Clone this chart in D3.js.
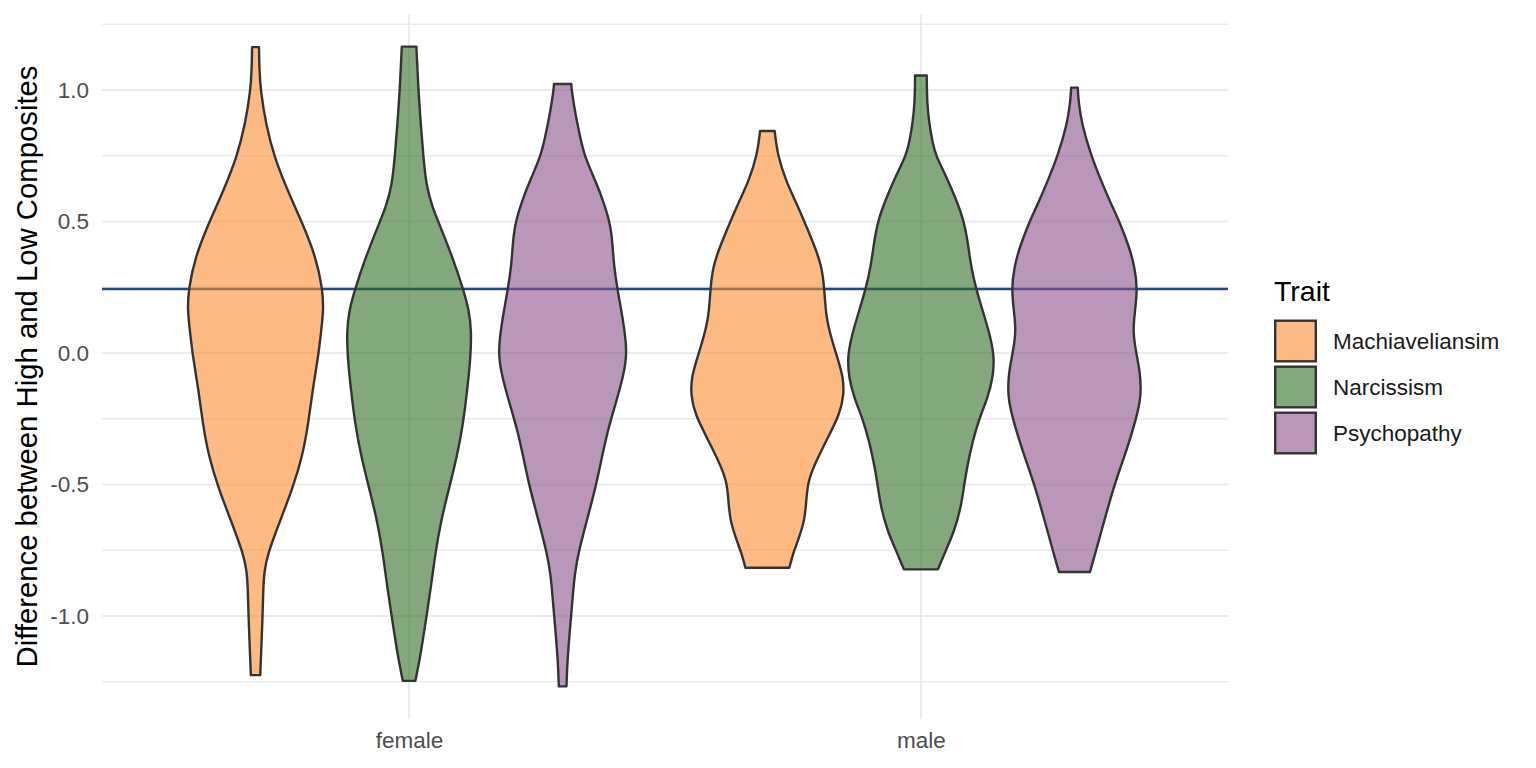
<!DOCTYPE html>
<html><head><meta charset="utf-8">
<script src="https://cdn.jsdelivr.net/npm/d3@7"></script>
<style>body{margin:0;background:#fff;} svg{display:block;font-family:"Liberation Sans",Arial,Helvetica,sans-serif;}</style>
</head><body><svg id="chart" width="1536" height="768"></svg>
<script>
const sexes = ["female", "male"];
const traits = ["Machiaveliansim", "Narcissism", "Psychopathy"];
const traitColors = ["#FC8C2F", "#2F6E23", "#8C528C"];
const yTickValues = [-1.0, -0.5, 0.0, 0.5, 1.0];
const yTickLabels = ["-1.0", "-0.5", "0.0", "0.5", "1.0"];
const yMinorValues = [-1.25, -0.75, -0.25, 0.25, 0.75, 1.25];
const referenceLine = 0.243;
const yLabel = "Difference between High and Low Composites";
const legendTitle = "Trait";

// violin profiles: [value, scaled density (1 = widest violin)]
const femaleMach = [[1.163,0.045],[1.08,0.05],[1.0,0.065],[0.871,0.134],[0.745,0.243],[0.618,0.417],[0.492,0.612],[0.366,0.785],[0.241,0.875],[0.162,0.885],[0.084,0.855],[-0.011,0.818],[-0.137,0.745],[-0.263,0.69],[-0.388,0.615],[-0.514,0.485],[-0.641,0.315],[-0.767,0.155],[-0.83,0.115],[-0.894,0.1],[-1.019,0.09],[-1.145,0.072],[-1.225,0.061]];
const femaleNarc = [[1.165,0.095],[1.0,0.121],[0.871,0.152],[0.745,0.186],[0.634,0.225],[0.555,0.303],[0.492,0.391],[0.366,0.564],[0.241,0.707],[0.162,0.781],[0.084,0.811],[-0.011,0.803],[-0.137,0.759],[-0.263,0.707],[-0.388,0.629],[-0.514,0.521],[-0.641,0.413],[-0.767,0.339],[-0.894,0.283],[-1.019,0.217],[-1.145,0.152],[-1.247,0.082]];
const femalePsych = [[1.023,0.113],[1.0,0.117],[0.903,0.169],[0.813,0.234],[0.75,0.285],[0.666,0.408],[0.606,0.495],[0.5,0.616],[0.426,0.647],[0.332,0.668],[0.243,0.712],[0.122,0.79],[0.0,0.845],[-0.089,0.79],[-0.194,0.69],[-0.30,0.582],[-0.42,0.495],[-0.51,0.43],[-0.63,0.322],[-0.751,0.212],[-0.84,0.156],[-0.946,0.126],[-1.051,0.095],[-1.172,0.061],[-1.268,0.05]];
const maleMach = [[0.844,0.095],[0.75,0.134],[0.654,0.243],[0.578,0.365],[0.5,0.482],[0.40,0.625],[0.324,0.712],[0.243,0.742],[0.137,0.764],[0.06,0.829],[-0.03,0.925],[-0.09,0.985],[-0.158,1.0],[-0.235,0.94],[-0.323,0.785],[-0.412,0.634],[-0.488,0.525],[-0.577,0.504],[-0.641,0.482],[-0.717,0.395],[-0.768,0.329],[-0.817,0.286]];
const maleNarc = [[1.055,0.076],[0.95,0.08],[0.87,0.11],[0.80,0.152],[0.75,0.195],[0.674,0.326],[0.586,0.456],[0.5,0.564],[0.41,0.616],[0.333,0.651],[0.245,0.716],[0.143,0.824],[0.055,0.911],[-0.02,0.957],[-0.096,0.937],[-0.172,0.868],[-0.25,0.759],[-0.336,0.673],[-0.425,0.608],[-0.5,0.564],[-0.589,0.521],[-0.678,0.434],[-0.75,0.326],[-0.823,0.221]];
const malePsych = [[1.009,0.043],[0.958,0.052],[0.87,0.095],[0.75,0.217],[0.654,0.348],[0.566,0.478],[0.5,0.586],[0.401,0.716],[0.325,0.785],[0.245,0.82],[0.161,0.79],[0.085,0.759],[0.0,0.803],[-0.076,0.858],[-0.168,0.87],[-0.25,0.803],[-0.358,0.694],[-0.5,0.521],[-0.612,0.413],[-0.75,0.283],[-0.833,0.202]];

const violins = [
  {sex: "female", trait: "Machiaveliansim", profile: femaleMach},
  {sex: "female", trait: "Narcissism", profile: femaleNarc},
  {sex: "female", trait: "Psychopathy", profile: femalePsych},
  {sex: "male", trait: "Machiaveliansim", profile: maleMach},
  {sex: "male", trait: "Narcissism", profile: maleNarc},
  {sex: "male", trait: "Psychopathy", profile: malePsych}
];

const panel = {left: 102, right: 1228, top: 14, bottom: 719};
const svg = d3.select("#chart");

const y = d3.scaleLinear().domain([-1.392, 1.289]).range([panel.bottom, panel.top]);
const x = d3.scalePoint().domain(sexes).range([panel.left, panel.right]).padding(0.6);
const dodge = d3.scaleBand().domain(traits).range([-0.45 * x.step(), 0.45 * x.step()]);
const w = d3.scaleLinear().domain([0, 1]).range([0, dodge.bandwidth() / 2]);
const color = d3.scaleOrdinal().domain(traits).range(traitColors);

// grid
const grid = svg.append("g");
grid.selectAll(".minor").data(yMinorValues).join("line")
  .attr("x1", panel.left).attr("x2", panel.right)
  .attr("y1", d => y(d)).attr("y2", d => y(d))
  .attr("stroke", "#EBEBEB").attr("stroke-width", 1.5);
grid.selectAll(".major").data(yTickValues).join("line")
  .attr("x1", panel.left).attr("x2", panel.right)
  .attr("y1", d => y(d)).attr("y2", d => y(d))
  .attr("stroke", "#EBEBEB").attr("stroke-width", 2);
grid.selectAll(".vmajor").data(sexes).join("line")
  .attr("x1", d => x(d)).attr("x2", d => x(d))
  .attr("y1", panel.top).attr("y2", panel.bottom)
  .attr("stroke", "#EBEBEB").attr("stroke-width", 2);

// reference line
svg.append("line")
  .attr("x1", panel.left).attr("x2", panel.right)
  .attr("y1", y(referenceLine)).attr("y2", y(referenceLine))
  .attr("stroke", "#1F4A87").attr("stroke-width", 2.4);

// violins
svg.append("g").selectAll("path").data(violins).join("path")
  .attr("d", v => {
    const cx = x(v.sex) + dodge(v.trait) + dodge.bandwidth() / 2;
    return d3.area().curve(d3.curveBasis)
      .y(d => y(d[0]))
      .x0(d => cx - w(d[1]))
      .x1(d => cx + w(d[1]))(v.profile);
  })
  .attr("fill", v => color(v.trait))
  .attr("fill-opacity", 0.6)
  .attr("stroke", "#333333")
  .attr("stroke-width", 2.4)
  .attr("stroke-linejoin", "round");

// axes
const yAxis = svg.append("g").attr("transform", `translate(${panel.left},0)`)
  .call(d3.axisLeft(y).tickValues(yTickValues).tickFormat((d, i) => yTickLabels[i]).tickSize(0).tickPadding(13));
yAxis.select(".domain").remove();
yAxis.selectAll("text").attr("fill", "#4D4D4D").style("font-size", "22.5px").style("font-family", "'Liberation Sans',Arial,sans-serif");

const xAxis = svg.append("g").attr("transform", `translate(0,${panel.bottom})`)
  .call(d3.axisBottom(x).tickSize(0).tickPadding(13));
xAxis.select(".domain").remove();
xAxis.selectAll("text").attr("fill", "#4D4D4D").style("font-size", "22.5px").style("font-family", "'Liberation Sans',Arial,sans-serif");

svg.append("text")
  .attr("transform", `translate(37,${(panel.top + panel.bottom) / 2}) rotate(-90)`)
  .attr("text-anchor", "middle")
  .style("font-size", "29.3px")
  .attr("fill", "#000")
  .text(yLabel);

// legend
const legend = svg.append("g").attr("transform", "translate(1274,0)");
legend.append("text").attr("x", 0).attr("y", 301).style("font-size", "28.5px").attr("fill", "#000").text(legendTitle);
const keySize = 43, keyTop = 319.5, keyStep = 46;
const items = legend.selectAll(".item").data(traits).join("g")
  .attr("transform", (d, i) => `translate(0,${keyTop + i * keyStep})`);
items.append("rect")
  .attr("x", 1.2).attr("y", 1.2).attr("width", keySize - 2.4).attr("height", keySize - 2.4)
  .attr("fill", d => color(d)).attr("fill-opacity", 0.6)
  .attr("stroke", "#333333").attr("stroke-width", 2.4);
items.append("text")
  .attr("x", 59).attr("y", keySize / 2).attr("dy", "0.36em")
  .style("font-size", "22.5px").attr("fill", "#1A1A1A")
  .text(d => d);
</script></body></html>
